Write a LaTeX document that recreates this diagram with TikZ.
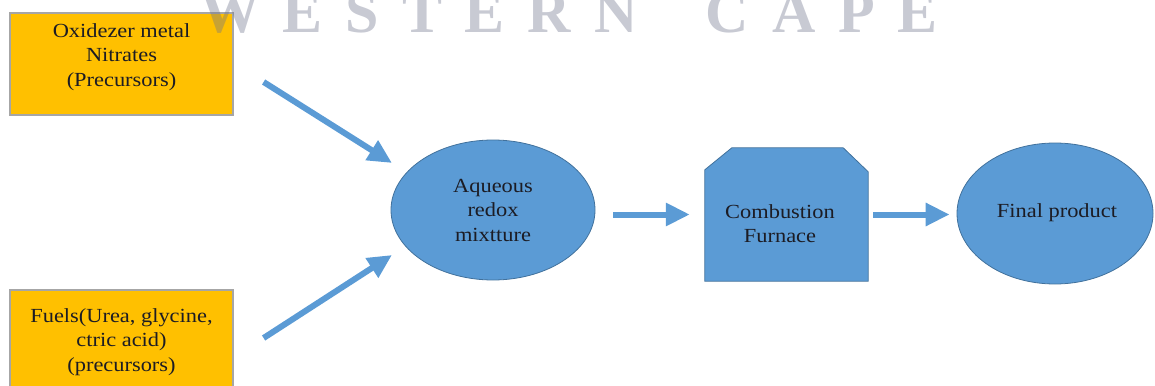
\documentclass[tikz,border=0pt]{standalone}
\usepackage{fontspec}
\setmainfont{Liberation Serif}[FakeStretch=1.12]
\newfontfamily\wmfont{Liberation Serif}
\usetikzlibrary{arrows.meta,shapes.geometric,calc}
\definecolor{ored}{HTML}{FFC000}
\definecolor{oline}{HTML}{A6A6A6}
\definecolor{bfill}{HTML}{5B9BD5}
\definecolor{bline}{HTML}{41719C}
\definecolor{ink}{HTML}{1C1C24}
\definecolor{wmgray}{RGB}{110,115,140}
\tikzset{
  srcbox/.style={rectangle, fill=ored, draw=oline, line width=1.2pt,
    minimum width=223pt, minimum height=102pt, inner sep=0pt},
  blob/.style={ellipse, fill=bfill, draw=bline, line width=0.8pt, inner sep=0pt},
  lbl/.style={align=center, text=ink, inner sep=0pt,
    font=\fontsize{20}{24.5}\selectfont},
  flow/.style={draw=bfill, line width=6pt,
    -{Triangle[length=24pt,width=22pt]}},
}
\begin{document}
\begin{tikzpicture}[x=1pt,y=-1pt]
\useasboundingbox (0,0) rectangle (1155,385);
\clip (0,0) rectangle (1155,385);

% precursor boxes
\node[srcbox] (ox) at (121.5,64) {};
\node[lbl] (oxt) at (121.5,57) {Oxidezer metal\\Nitrates\\(Precursors)};
\node[srcbox] (fu) at (121.5,341) {};
\node[lbl] (fut) at (121.5,342) {Fuels(Urea, glycine,\\ctric acid)\\(precursors)};

% mixture, furnace and product
\node[blob, minimum width=204pt, minimum height=140pt] (e1) at (493,210) {};
\node[lbl] (e1t) at (493,210) {Aqueous\\redox\\mixtture};

\node[rectangle, inner sep=0pt, minimum width=163pt, minimum height=133pt] (fur) at (786.5,214.5) {};
\filldraw[fill=bfill, draw=bline, line width=0.8pt]
  ($(fur.north west)+(0,22)$) -- ($(fur.north west)+(27,0)$) --
  ($(fur.north east)+(-25,0)$) -- ($(fur.north east)+(0,24)$) --
  (fur.south east) -- (fur.south west) -- cycle;
\node[lbl] (furt) at (780,223.5) {Combustion\\Furnace};

\node[blob, minimum width=196pt, minimum height=141pt] (e2) at (1055,213.5) {};
\node[lbl] (e2t) at (1057,213) {Final product};

% connectors
\coordinate (a1s) at ($(ox.east)+(30,18)$);
\coordinate (a1e) at ($(e1)+(-101,-47)$);
\coordinate (a2s) at ($(fu.east)+(30,-3)$);
\coordinate (a2e) at ($(e1)+(-101,45)$);
\draw[flow] (a1s) -- (a1e);
\draw[flow] (a2s) -- (a2e);
\draw[flow, shorten <=18pt, shorten >=15pt] (e1.east |- fur.west) -- (fur.west);
\draw[flow, shorten <=5pt, shorten >=7pt] (fur.east) -- (e2.west |- fur.east);

% watermark lettering
\node[anchor=base, inner sep=0pt, text=wmgray, text opacity=0.38,
  font=\wmfont\bfseries\fontsize{60}{60}\selectfont] (wm) at (569,33)
  {\makebox[738pt][s]{W\hfil E\hfil S\hfil T\hfil E\hfil R\hfil N\hfil\hfil\hfil C\hfil A\hfil P\hfil E}};
\end{tikzpicture}
\end{document}
